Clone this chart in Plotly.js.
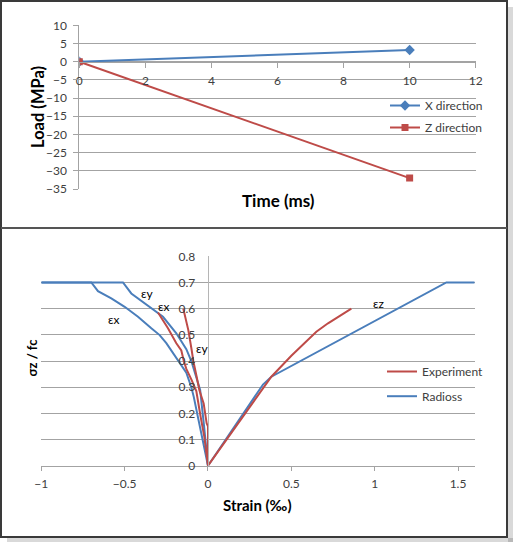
<!DOCTYPE html>
<html>
<head>
<meta charset="utf-8">
<script src="https://cdn.plot.ly/plotly-3.0.1.min.js"></script>
<style>html,body{margin:0;padding:0;background:#fff;}#chart{width:515px;height:544px;}</style>
</head>
<body>
<div id="chart"></div>
<script>
// ---- Top chart data ----
const timeMs = [0, 10];
const loadX = [0, 3.2];
const loadZ = [0, -32];

// ---- Bottom chart data (strain in per mille, sigma_z / fc) ----
const radiossZStrain = [0, 0.28, 0.33, 0.38, 1.43, 1.6];
const radiossZStress = [0, 0.265, 0.31, 0.34, 0.70, 0.70];
const experimentZStrain = [0, 0.28, 0.38, 0.5, 0.65, 0.72, 0.86];
const experimentZStress = [0, 0.25, 0.34, 0.42, 0.512, 0.544, 0.60];

const radiossXStrain = [-1, -0.7, -0.66, -0.58, -0.5, -0.42, -0.34, -0.29, -0.25, -0.17, -0.13, -0.1, -0.085, -0.057, -0.026, 0];
const radiossXStress = [0.70, 0.70, 0.667, 0.639, 0.607, 0.569, 0.525, 0.499, 0.468, 0.395, 0.355, 0.30, 0.262, 0.175, 0.073, 0];
const radiossYStrain = [-1, -0.51, -0.46, -0.38, -0.32, -0.27, -0.19, -0.13, -0.1, -0.07, -0.047, -0.025, 0];
const radiossYStress = [0.70, 0.70, 0.658, 0.62, 0.595, 0.569, 0.506, 0.445, 0.40, 0.342, 0.289, 0.16, 0];

const experimentXStrain = [-0.30, -0.24, -0.19, -0.16, -0.145, -0.13, -0.1, -0.07, -0.045, -0.022, 0];
const experimentXStress = [0.585, 0.525, 0.468, 0.44, 0.40, 0.37, 0.33, 0.285, 0.19, 0.11, 0];
const experimentYStrain = [-0.148, -0.118, -0.098, -0.088, -0.068, -0.052, -0.026, -0.008, 0, 0];
const experimentYStress = [0.60, 0.518, 0.442, 0.40, 0.34, 0.289, 0.238, 0.162, 0.15, 0];

// curve labels
const labelTexts = ['εy', 'εx', 'εx', 'εy', 'εz'];
const labelStrain = [-0.368, -0.268, -0.568, -0.038, 1.022];
const labelStress = [0.659, 0.607, 0.559, 0.448, 0.62];

const BLUE = '#4A7EBB', RED = '#BE4B48';
const FONT = 'Lato, "DejaVu Sans", sans-serif';
const W = 515, H = 544;
const px = v => v / W;
const py = v => 1 - v / H;

const traces = [
  {x: timeMs, y: loadX, name: 'X direction', mode: 'lines+markers', xaxis: 'x', yaxis: 'y',
   line: {color: BLUE, width: 2}, marker: {symbol: 'diamond', size: 8, color: BLUE},
   legend: 'legend', legendgroup: 'a'},
  {x: timeMs, y: loadZ, name: 'Z direction', mode: 'lines+markers', xaxis: 'x', yaxis: 'y',
   line: {color: RED, width: 2}, marker: {symbol: 'square', size: 7, color: RED},
   legend: 'legend', legendgroup: 'b'},

  {x: radiossZStrain, y: radiossZStress, name: 'Radioss', mode: 'lines', xaxis: 'x2', yaxis: 'y2',
   line: {color: BLUE, width: 2}, legend: 'legend2', legendgroup: 'rad', legendrank: 2},
  {x: radiossXStrain, y: radiossXStress, name: 'Radioss', mode: 'lines', xaxis: 'x2', yaxis: 'y2',
   line: {color: BLUE, width: 2}, legend: 'legend2', legendgroup: 'rad', showlegend: false},
  {x: radiossYStrain, y: radiossYStress, name: 'Radioss', mode: 'lines', xaxis: 'x2', yaxis: 'y2',
   line: {color: BLUE, width: 2}, legend: 'legend2', legendgroup: 'rad', showlegend: false},
  {x: experimentZStrain, y: experimentZStress, name: 'Experiment', mode: 'lines', xaxis: 'x2', yaxis: 'y2',
   line: {color: RED, width: 2}, legend: 'legend2', legendgroup: 'exp', legendrank: 1},
  {x: experimentXStrain, y: experimentXStress, name: 'Experiment', mode: 'lines', xaxis: 'x2', yaxis: 'y2',
   line: {color: RED, width: 2}, legend: 'legend2', legendgroup: 'exp', showlegend: false},
  {x: experimentYStrain, y: experimentYStress, name: 'Experiment', mode: 'lines', xaxis: 'x2', yaxis: 'y2',
   line: {color: RED, width: 2}, legend: 'legend2', legendgroup: 'exp', showlegend: false}
];

const GRID = '#a3a3a3';
const tickFont = {family: FONT, size: 12, color: '#404040'};
const titleFont = s => ({family: FONT, size: s, color: '#000', weight: 'bold'});

const annotations = labelTexts.map((t, i) => ({
  x: labelStrain[i], y: labelStress[i], xref: 'x2', yref: 'y2', text: t, showarrow: false,
  font: {family: FONT, size: 12, color: '#000'}
}));
const titleAnn = (x, y, text, size, angle) => ({
  x: px(x), y: py(y), xref: 'paper', yref: 'paper', xanchor: 'center', yanchor: 'middle',
  text: text, textangle: angle, showarrow: false, font: titleFont(size)
});
annotations.push(titleAnn(278.5, 200, '<b>Time (ms)</b>', 17, 0));
annotations.push(titleAnn(38, 107, '<b>Load (MPa)</b>', 16.5, -90));
annotations.push(titleAnn(257.5, 505, '<b>Strain (‰)</b>', 15, 0));
annotations.push(titleAnn(31.5, 358, '<b>σz / fc</b>', 13, -90));

const layout = {
  width: W, height: H,
  margin: {l: 0, r: 0, t: 0, b: 0},
  paper_bgcolor: '#fff', plot_bgcolor: 'rgba(0,0,0,0)',
  font: {family: FONT, size: 12, color: '#404040'},
  xaxis: {domain: [px(79.3), px(475.7)], range: [0, 12], dtick: 2, anchor: 'free', position: py(62.3),
    showline: true, linecolor: GRID, linewidth: 1, ticks: 'outside', ticklen: 5, tickcolor: GRID,
    showgrid: false, zeroline: false, tickfont: tickFont, ticklabelstandoff: 2},
  yaxis: {domain: [py(189), py(25.3)], range: [-35, 10], dtick: 5, anchor: 'x',
    showline: true, linecolor: GRID, ticks: 'outside', ticklen: 5, tickcolor: GRID,
    showgrid: true, gridcolor: GRID, zeroline: false, tickfont: tickFont, ticklabelstandoff: 4},
  xaxis2: {domain: [px(41.3), px(474.7)], range: [-1, 1.6], dtick: 0.5, anchor: 'y2',
    showline: true, linecolor: GRID, ticks: 'outside', ticklen: 4, tickcolor: GRID,
    showgrid: false, zeroline: false, tickfont: tickFont, ticklabelstandoff: 3},
  yaxis2: {domain: [py(465.7), py(256.3)], range: [0, 0.8], dtick: 0.1, anchor: 'free', position: px(207.7),
    showline: true, linecolor: '#b5b5b5', ticks: '', showgrid: true, gridcolor: GRID,
    zeroline: false, tickfont: tickFont, ticklabelstandoff: 10},
  legend: {x: px(385), y: py(91), xanchor: 'left', yanchor: 'top', bgcolor: 'rgba(0,0,0,0)',
    font: {family: FONT, size: 12, color: '#404040'}, tracegroupgap: 3, itemwidth: 30},
  legend2: {x: px(382), y: py(357), xanchor: 'left', yanchor: 'top', bgcolor: 'rgba(0,0,0,0)',
    font: {family: FONT, size: 12, color: '#404040'}, tracegroupgap: 5.7, itemwidth: 30},
  annotations: annotations,
  shapes: [
    {type: 'rect', xref: 'paper', yref: 'paper', x0: px(508), x1: px(513), y0: py(542), y1: py(7),
     fillcolor: 'rgba(0,0,0,0.15)', line: {width: 0}, layer: 'below'},
    {type: 'rect', xref: 'paper', yref: 'paper', x0: px(7), x1: px(513), y0: py(542), y1: py(538),
     fillcolor: 'rgba(0,0,0,0.15)', line: {width: 0}, layer: 'below'},
    {type: 'rect', xref: 'paper', yref: 'paper', x0: px(1), x1: px(507), y0: py(537), y1: py(1),
     line: {color: '#3a3a3a', width: 2}},
    {type: 'line', xref: 'paper', yref: 'paper', x0: px(1), x1: px(507), y0: py(228), y1: py(228),
     line: {color: '#555', width: 2}}
  ]
};

Plotly.newPlot('chart', traces, layout, {staticPlot: true, displayModeBar: false});
</script>
</body>
</html>
